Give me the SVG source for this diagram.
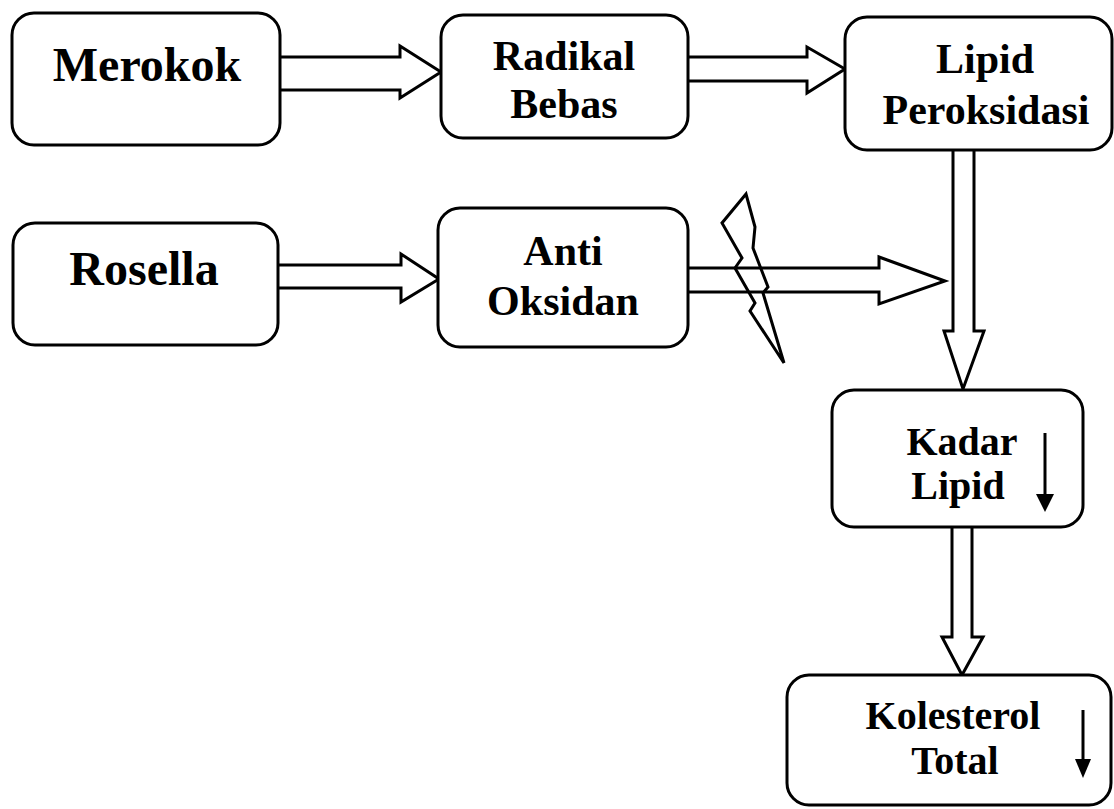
<svg xmlns="http://www.w3.org/2000/svg" width="1114" height="809" viewBox="0 0 1114 809">
<style>
.box{fill:#fff;stroke:#000;stroke-width:3}
.t{font-family:"Liberation Serif","Times New Roman",serif;font-weight:bold;font-size:42px;fill:#000;text-anchor:middle}
.big{font-size:48px}
.sm{font-size:40px}
.arr{fill:#fff;stroke:#000;stroke-width:3;stroke-linejoin:miter}
.small{stroke:#000;stroke-width:3;fill:none}
.head{fill:#000;stroke:none}
</style>
<rect width="1114" height="809" fill="#fff"/>
<g id="connectors">
<path class="arr" d="M280,57 L400,57 L400,46 L441,72 L400,98 L400,90 L280,90"/>
<path class="arr" d="M688,57 L807,57 L807,47 L845,69 L807,93 L807,81 L688,81"/>
<path class="arr" d="M278,265 L401,265 L401,254 L439,279 L401,302 L401,288 L278,288"/>
<path class="arr" d="M688,268 L879,268 L879,257 L945,281 L879,304 L879,292 L688,292"/>
<path class="arr" d="M953,150 L953,331 L944,331 L963,389 L984,331 L974,331 L974,150"/>
<path class="arr" d="M952,527 L952,637 L942,637 L962,675 L983,637 L972,637 L972,527"/>
<polygon id="bolt" fill="none" stroke="#000" stroke-width="3" stroke-linejoin="miter" points="746,194 722,223 742,258 735,268 755,303 750,311 784,363 763,293 768,287 753,248 755,227"/>
</g>
<g id="merokok">
<rect class="box" x="12" y="13" width="268" height="132" rx="22"/>
<text class="t big" x="147" y="81">Merokok</text>
</g>
<g id="radikal">
<rect class="box" x="441" y="15" width="247" height="123" rx="22"/>
<text class="t" x="564" y="70">Radikal</text>
<text class="t" x="564" y="118">Bebas</text>
</g>
<g id="lipid-peroksidasi">
<rect class="box" x="845" y="17" width="267" height="133" rx="22"/>
<text class="t" x="985" y="73">Lipid</text>
<text class="t" x="986" y="124">Peroksidasi</text>
</g>
<g id="rosella">
<rect class="box" x="13" y="223" width="265" height="122" rx="22"/>
<text class="t big" x="144" y="285">Rosella</text>
</g>
<g id="anti-oksidan">
<rect class="box" x="438" y="208" width="250" height="139" rx="22"/>
<text class="t" x="563" y="265">Anti</text>
<text class="t" x="563" y="315">Oksidan</text>
</g>
<g id="kadar-lipid">
<rect class="box" x="832" y="390" width="251" height="137" rx="22"/>
<text class="t sm" x="962" y="455">Kadar</text>
<text class="t sm" x="958" y="499">Lipid</text>
<line class="small" x1="1045" y1="433" x2="1045" y2="497"/>
<polygon class="head" points="1036,494 1054,494 1045,512"/>
</g>
<g id="kolesterol-total">
<rect class="box" x="787" y="675" width="324" height="130" rx="22"/>
<text class="t sm" x="953" y="729">Kolesterol</text>
<text class="t sm" x="955" y="774">Total</text>
<line class="small" x1="1083" y1="710" x2="1083" y2="762"/>
<polygon class="head" points="1075,759 1091,759 1083,778"/>
</g>
</svg>
